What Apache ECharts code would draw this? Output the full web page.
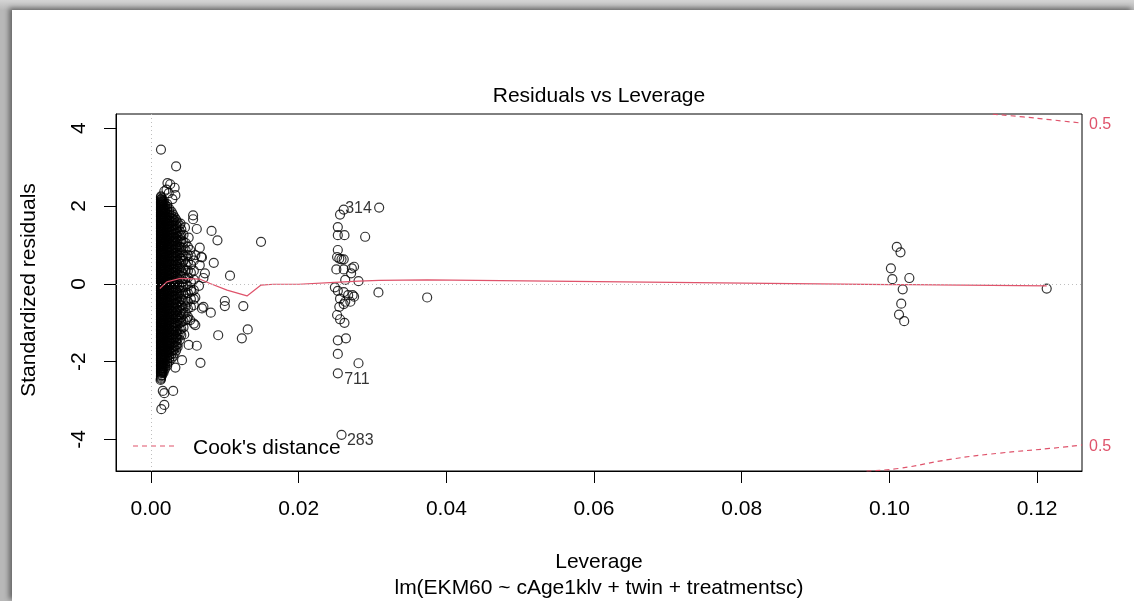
<!DOCTYPE html>
<html>
<head>
<meta charset="utf-8">
<script src="https://cdn.jsdelivr.net/npm/echarts@6/dist/echarts.min.js"></script>
<style>
  html, body { margin:0; padding:0; width:1134px; height:601px; overflow:hidden; }
  body { background: linear-gradient(to bottom, #d4d4d4 0px, #b8b8b8 10px); }
  #panel { position:absolute; left:12px; top:10px; right:0; bottom:0; background:#fff;
           box-shadow: -3px -2px 5px rgba(0,0,0,0.45); }
  #chart { position:absolute; left:0; top:0; width:1134px; height:601px; }
</style>
</head>
<body>
<div id="panel"></div>
<div id="chart"></div>
<script>
// ---------------- DATA ----------------
const xTicks = [0, 0.02, 0.04, 0.06, 0.08, 0.10, 0.12];
const yTicks = [-4, -2, 0, 2, 4];
const xRange = [-0.00474, 0.12608];
const yRange = [-4.809, 4.365];

// dense cloud: leverage columns and the standardized residuals seen in each
const denseLev = [0.00135, 0.0015, 0.0017, 0.0019, 0.0022, 0.0025, 0.0028, 0.0030, 0.0032, 0.0034,
                  0.0036, 0.0039, 0.0041, 0.0044, 0.0047, 0.0050, 0.0054, 0.0058];
const denseRes = [
  [2.25,2.22,2.18,2.16,2.12,2.09,2.07,2.03,2.00,1.97,1.94,1.91,1.88,1.84,1.82,1.78,1.75,1.73,1.69,1.66,1.63,1.60,1.57,1.54,1.51,1.48,1.44,1.42,1.38,1.35,1.33,1.29,1.26,1.23,1.20,1.17,1.14,1.11,1.08,1.04,1.02,0.98,0.95,0.93,0.89,0.86,0.83,0.80,0.77,0.74,0.71,0.68,0.64,0.62,0.58,0.55,0.53,0.49,0.46,0.43,0.40,0.37,0.34,0.31,0.28,0.24,0.22,0.18,0.15,0.13,0.09,0.06,0.03,0.00,-0.03,-0.06,-0.09,-0.12,-0.16,-0.18,-0.22,-0.25,-0.27,-0.31,-0.34,-0.37,-0.40,-0.43,-0.46,-0.49,-0.53,-0.55,-0.59,-0.62,-0.64,-0.68,-0.71,-0.74,-0.77,-0.80,-0.83,-0.86,-0.90,-0.92,-0.96,-0.99,-1.01,-1.05,-1.08,-1.11,-1.14,-1.17,-1.20,-1.23,-1.27,-1.29,-1.33,-1.36,-1.38,-1.42,-1.45,-1.48,-1.51,-1.54,-1.57,-1.60,-1.64,-1.66,-1.70,-1.73,-1.75,-1.79,-1.82,-1.85,-1.88,-1.91,-1.94,-1.97,-2.01,-2.03,-2.07,-2.10,-2.12,-2.16,-2.19,-2.22,-2.25,-2.28,-2.31,-2.35,-2.38,-2.41,-2.44],
  [2.20,2.14,2.11,2.06,2.03,1.97,1.92,1.88,1.85,1.79,1.74,1.70,1.67,1.61,1.56,1.52,1.49,1.43,1.38,1.34,1.31,1.25,1.20,1.16,1.13,1.07,1.02,0.98,0.95,0.89,0.84,0.80,0.77,0.71,0.66,0.62,0.59,0.53,0.48,0.44,0.41,0.35,0.30,0.26,0.23,0.17,0.12,0.08,0.05,-0.01,-0.06,-0.10,-0.13,-0.19,-0.24,-0.28,-0.31,-0.37,-0.42,-0.46,-0.49,-0.55,-0.60,-0.64,-0.67,-0.73,-0.78,-0.82,-0.85,-0.91,-0.96,-1.00,-1.03,-1.09,-1.14,-1.18,-1.21,-1.27,-1.32,-1.36,-1.39,-1.45,-1.50,-1.54,-1.57,-1.63,-1.68,-1.72,-1.75,-1.81,-1.86,-1.90,-1.93,-1.99,-2.04,-2.08,-2.11,-2.17,-2.22,-2.26,-2.29,-2.35],
  [2.12,2.07,2.01,1.94,1.90,1.85,1.79,1.72,1.68,1.63,1.57,1.50,1.46,1.41,1.35,1.28,1.24,1.19,1.13,1.06,1.02,0.97,0.91,0.84,0.80,0.75,0.69,0.62,0.58,0.53,0.47,0.40,0.36,0.31,0.25,0.18,0.14,0.09,0.03,-0.04,-0.08,-0.13,-0.19,-0.26,-0.30,-0.35,-0.41,-0.48,-0.52,-0.57,-0.63,-0.70,-0.74,-0.79,-0.85,-0.92,-0.96,-1.01,-1.07,-1.14,-1.18,-1.23,-1.29,-1.36,-1.40,-1.45,-1.51,-1.58,-1.62,-1.67,-1.73,-1.80,-1.84,-1.89,-1.95,-2.02,-2.06,-2.11,-2.17,-2.24,-2.28],
  [2.02,1.94,1.88,1.82,1.73,1.67,1.61,1.52,1.46,1.40,1.31,1.25,1.19,1.10,1.04,0.98,0.89,0.83,0.77,0.68,0.62,0.56,0.47,0.41,0.35,0.26,0.20,0.14,0.05,-0.01,-0.07,-0.16,-0.22,-0.28,-0.37,-0.43,-0.49,-0.58,-0.64,-0.70,-0.79,-0.85,-0.91,-1.00,-1.06,-1.12,-1.21,-1.27,-1.33,-1.42,-1.48,-1.54,-1.63,-1.69,-1.75,-1.84,-1.90,-1.96,-2.05,-2.11,-2.18],
  [2.05,1.98,1.92,1.87,1.79,1.72,1.66,1.61,1.53,1.46,1.40,1.35,1.27,1.20,1.14,1.09,1.01,0.94,0.88,0.83,0.75,0.68,0.62,0.57,0.49,0.42,0.36,0.31,0.23,0.16,0.10,0.05,-0.03,-0.10,-0.16,-0.21,-0.29,-0.36,-0.42,-0.47,-0.55,-0.62,-0.68,-0.73,-0.81,-0.88,-0.94,-0.99,-1.07,-1.14,-1.20,-1.25,-1.33,-1.40,-1.46,-1.51,-1.59,-1.66,-1.72,-1.77,-1.85,-1.92,-1.98,-2.04,-2.10],
  [1.92,1.84,1.77,1.71,1.62,1.54,1.47,1.41,1.32,1.24,1.17,1.11,1.02,0.94,0.87,0.81,0.72,0.64,0.57,0.51,0.42,0.34,0.27,0.21,0.12,0.04,-0.03,-0.09,-0.18,-0.26,-0.33,-0.39,-0.48,-0.56,-0.63,-0.69,-0.78,-0.86,-0.93,-0.99,-1.08,-1.16,-1.23,-1.29,-1.38,-1.46,-1.53,-1.59,-1.68,-1.76,-1.83,-1.90,-1.98],
  [1.85,1.75,1.68,1.60,1.51,1.41,1.34,1.26,1.17,1.07,1.00,0.92,0.83,0.73,0.66,0.58,0.49,0.39,0.32,0.24,0.15,0.05,-0.02,-0.10,-0.19,-0.29,-0.36,-0.44,-0.53,-0.63,-0.70,-0.78,-0.87,-0.97,-1.04,-1.12,-1.21,-1.31,-1.38,-1.46,-1.55,-1.65,-1.72,-1.80,-1.91],
  [1.78,1.67,1.58,1.49,1.38,1.27,1.18,1.09,0.98,0.87,0.78,0.69,0.58,0.47,0.38,0.29,0.18,0.07,-0.02,-0.11,-0.22,-0.33,-0.42,-0.51,-0.62,-0.73,-0.82,-0.91,-1.02,-1.13,-1.22,-1.31,-1.42,-1.53,-1.62,-1.71,-1.86],
  [1.71,1.62,1.50,1.40,1.32,1.20,1.10,1.02,0.90,0.80,0.72,0.60,0.50,0.42,0.30,0.20,0.12,0.00,-0.10,-0.18,-0.30,-0.40,-0.48,-0.60,-0.70,-0.78,-0.90,-1.00,-1.08,-1.20,-1.30,-1.38,-1.50,-1.60,-1.68,-1.79],
  [1.65,1.52,1.42,1.29,1.16,1.06,0.93,0.80,0.70,0.57,0.44,0.34,0.21,0.08,-0.02,-0.15,-0.28,-0.38,-0.51,-0.64,-0.74,-0.87,-1.00,-1.10,-1.23,-1.36,-1.46,-1.59,-1.71],
  [1.58,1.47,1.33,1.22,1.11,0.97,0.86,0.75,0.61,0.50,0.39,0.25,0.14,0.03,-0.11,-0.22,-0.33,-0.47,-0.58,-0.69,-0.83,-0.94,-1.05,-1.19,-1.30,-1.41,-1.55,-1.62],
  [1.50,1.35,1.23,1.07,0.95,0.79,0.67,0.51,0.39,0.23,0.11,-0.05,-0.17,-0.33,-0.45,-0.61,-0.73,-0.89,-1.01,-1.17,-1.29,-1.44],
  [1.40,1.24,1.11,0.94,0.81,0.64,0.51,0.34,0.21,0.04,-0.09,-0.26,-0.39,-0.56,-0.69,-0.86,-0.99,-1.16,-1.32],
  [1.26,1.08,0.93,0.74,0.59,0.40,0.25,0.06,-0.09,-0.28,-0.43,-0.62,-0.77,-0.96,-1.12],
  [1.05,0.86,0.70,0.50,0.34,0.14,-0.02,-0.22,-0.38,-0.58,-0.74,-0.93],
  [0.95,0.74,0.56,0.34,0.16,-0.06,-0.24,-0.46,-0.64,-0.85],
  [0.72,0.49,0.29,0.05,-0.15,-0.39,-0.60],
  [0.60,0.34,0.11,-0.16,-0.39]
];

// sparse points around the low-leverage cloud [leverage, std. residual]
const sparsePts = [
  [0.00135,3.45],[0.0034,3.02],[0.00223,2.59],[0.0026,2.56],[0.0032,2.47],[0.0033,2.28],
  [0.0018,2.38],[0.0024,2.33],[0.0029,2.18],[0.0021,2.42],
  [0.0040,1.55],[0.0046,1.45],[0.0051,1.19],[0.0053,0.87],[0.0060,0.74],[0.0069,0.68],[0.0066,0.48],[0.0073,0.27],
  [0.0057,1.76],[0.0057,1.66],[0.0062,1.41],[0.0082,1.36],[0.0090,1.12],[0.0066,0.93],[0.0068,0.69],
  [0.0085,0.54],[0.0107,0.21],[0.0071,0.15],[0.0149,1.08],
  [0.0013,-2.47],[0.0016,-2.75],[0.0018,-2.81],[0.0030,-2.75],[0.0018,-3.11],[0.0014,-3.22],
  [0.0067,-2.03],[0.0062,-1.59],[0.0051,-1.57],[0.0042,-1.96],[0.0033,-2.15],
  [0.0058,-0.55],[0.0069,-0.63],[0.0071,-0.59],[0.0081,-0.74],[0.0100,-0.44],[0.0100,-0.57],[0.0125,-0.57],
  [0.0091,-1.32],[0.0123,-1.40],[0.0131,-1.17],[0.0058,-1.02],[0.0053,-0.93],[0.0060,-1.06],
  [0.0045,-1.30],[0.0049,-0.90],[0.0055,-0.20],[0.0060,-0.35],[0.0065,-0.05]
];

// cluster near leverage 0.025
const midPts = [
  [0.0256,1.78],[0.0309,1.96],[0.0253,1.46],[0.0253,1.25],[0.0262,1.25],[0.0290,1.21],
  [0.0253,0.87],[0.0252,0.69],[0.0255,0.65],[0.0258,0.63],[0.0261,0.63],[0.0251,0.37],[0.0261,0.37],
  [0.0275,0.44],[0.0272,0.40],[0.0271,0.27],[0.0281,0.07],[0.0263,0.10],[0.0249,-0.09],[0.0253,-0.18],
  [0.0261,-0.21],[0.0267,-0.29],[0.0273,-0.29],[0.0275,-0.33],[0.0256,-0.38],[0.0263,-0.46],[0.0270,-0.46],
  [0.0255,-0.59],[0.0261,-0.52],[0.0308,-0.22],[0.0374,-0.35],[0.0252,-0.80],[0.0256,-0.91],[0.0262,-1.00],
  [0.0253,-1.45],[0.0264,-1.40],[0.0253,-1.80],[0.0281,-2.04]
];

// cluster near leverage 0.10 and the largest-leverage point
const highPts = [
  [0.1010,0.95],[0.1015,0.81],[0.1002,0.40],[0.1004,0.12],[0.1027,0.15],[0.1018,-0.14],
  [0.1016,-0.51],[0.1013,-0.79],[0.1020,-0.96],[0.1213,-0.12]
];

// labelled observations
const labelIds = ['314', '711', '283'];
const labelPts = [[0.0261,1.91],[0.0253,-2.30],[0.0258,-3.88]];

// lowess smoother (red solid line)
const smoothPts = [
  [0.0012,-0.12],[0.00215,0.05],[0.00395,0.14],[0.00666,0.12],[0.0080,0.01],[0.0103,-0.16],
  [0.0130,-0.31],[0.0149,-0.03],[0.0166,-0.01],[0.0200,-0.01],[0.0249,0.04],[0.0281,0.07],
  [0.0309,0.09],[0.0374,0.10],[0.1002,-0.02],[0.1027,-0.02],[0.1213,-0.05]
];

// Cook's distance 0.5 contours (red dashed)
const cookUpper = [[0.1140,4.36],[0.1181,4.29],[0.1217,4.22],[0.1261,4.13]];
const cookLower = [[0.0969,-4.81],[0.1014,-4.74],[0.1082,-4.51],[0.1149,-4.35],[0.1217,-4.23],[0.1261,-4.14]];

// ---------------- CHART ----------------
const RED = '#DF536B';
const FONT = '"Liberation Sans", Arial, sans-serif';

const allPts = [];
denseLev.forEach((lv, i) => denseRes[i].forEach(r => allPts.push([lv, r])));
sparsePts.forEach(p => allPts.push(p));
midPts.forEach(p => allPts.push(p));
highPts.forEach(p => allPts.push(p));

const labelOffsets = [[2, 0], [7, 6.5], [6, 6]];
const labelData = labelPts.map((p, i) => ({
  value: p,
  label: {
    show: true, formatter: labelIds[i], position: [4.5 + labelOffsets[i][0], 4.5 + labelOffsets[i][1]],
    align: 'left', verticalAlign: 'middle', fontSize: 16, color: '#000', fontFamily: FONT
  }
}));

const chart = echarts.init(document.getElementById('chart'), null, { renderer: 'canvas' });
const pointStyle = { color: 'rgba(0,0,0,0)', borderColor: '#000', borderWidth: 1.2 };

chart.setOption({
  animation: false,
  backgroundColor: 'transparent',
  grid: { left: 116, top: 114, width: 966, height: 357, show: true, borderColor: '#000', borderWidth: 1, backgroundColor: 'transparent' },
  xAxis: {
    type: 'value', min: xRange[0], max: xRange[1],
    splitLine: { show: false },
    axisLine: { show: true, onZero: false, lineStyle: { color: '#000', width: 1 } },
    axisTick: { show: true, length: 12, customValues: xTicks, lineStyle: { color: '#000' } },
    axisLabel: { customValues: xTicks, formatter: v => v.toFixed(2), fontSize: 21, color: '#000', margin: 28, fontFamily: FONT }
  },
  yAxis: {
    type: 'value', min: yRange[0], max: yRange[1],
    splitLine: { show: false },
    axisLine: { show: true, onZero: false, lineStyle: { color: '#000', width: 1 } },
    axisTick: { show: true, length: 12, customValues: yTicks, lineStyle: { color: '#000' } },
    axisLabel: { customValues: yTicks, rotate: 90, fontSize: 21, color: '#000', margin: 26, fontFamily: FONT }
  },
  series: [
    {
      type: 'scatter', data: allPts, symbol: 'circle', symbolSize: 9, itemStyle: pointStyle,
      progressive: 0, silent: true, z: 2
    },
    {
      type: 'scatter', data: labelData, symbol: 'circle', symbolSize: 9, itemStyle: pointStyle, silent: true, z: 2
    },
    {
      type: 'line', data: smoothPts, symbol: 'none', lineStyle: { color: RED, width: 1.2 }, silent: true, z: 3,
      markLine: {
        silent: true, symbol: ['none', 'none'], label: { show: false },
        lineStyle: { color: '#BEBEBE', type: [1, 3], width: 1 },
        data: [{ xAxis: 0 }, { yAxis: 0 }]
      }
    },
    { type: 'line', data: cookUpper, symbol: 'none', smooth: true, lineStyle: { color: RED, width: 1.2, type: [5, 4] }, silent: true, z: 3 },
    { type: 'line', data: cookLower, symbol: 'none', smooth: true, lineStyle: { color: RED, width: 1.2, type: [5, 4] }, silent: true, z: 3 }
  ],
  graphic: [
    { type: 'text', x: 599, y: 96, style: { text: 'Residuals vs Leverage', font: '21px ' + FONT, fill: '#000', textAlign: 'center', textVerticalAlign: 'middle' } },
    { type: 'text', x: 599, y: 562, style: { text: 'Leverage', font: '21px ' + FONT, fill: '#000', textAlign: 'center', textVerticalAlign: 'middle' } },
    { type: 'text', x: 599, y: 588, style: { text: 'lm(EKM60 ~ cAge1klv + twin + treatmentsc)', font: '21px ' + FONT, fill: '#000', textAlign: 'center', textVerticalAlign: 'middle' } },
    { type: 'text', x: 29, y: 290, rotation: Math.PI / 2, style: { text: 'Standardized residuals', font: '21px ' + FONT, fill: '#000', textAlign: 'center', textVerticalAlign: 'middle' } },
    { type: 'line', shape: { x1: 133, y1: 446, x2: 177, y2: 446 }, style: { stroke: RED, lineWidth: 1.2, lineDash: [5, 4] } },
    { type: 'text', x: 193, y: 448, style: { text: "Cook's distance", font: '21px ' + FONT, fill: '#000', textAlign: 'left', textVerticalAlign: 'middle' } },
    { type: 'text', x: 1089, y: 125, style: { text: '0.5', font: '16px ' + FONT, fill: RED, textAlign: 'left', textVerticalAlign: 'middle' } },
    { type: 'text', x: 1089, y: 447, style: { text: '0.5', font: '16px ' + FONT, fill: RED, textAlign: 'left', textVerticalAlign: 'middle' } }
  ]
});
</script>
</body>
</html>
